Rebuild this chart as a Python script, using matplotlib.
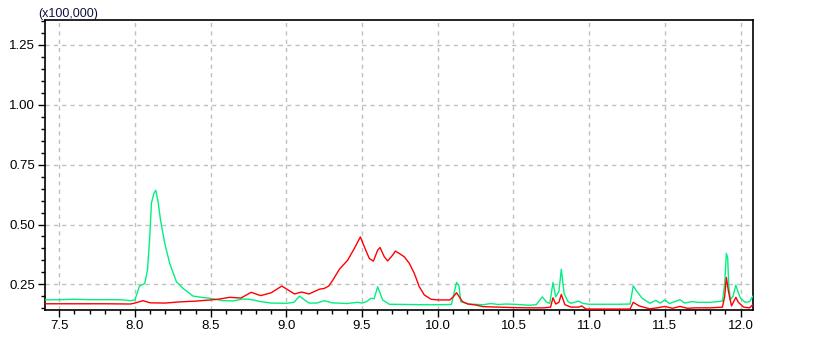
import matplotlib
matplotlib.use("Agg")
import matplotlib.pyplot as plt
from matplotlib.ticker import MultipleLocator, FormatStrFormatter

green_x = [7.41, 7.5, 7.6, 7.7, 7.8, 7.9, 7.97, 8.0, 8.01, 8.03, 8.065, 8.083, 8.098, 8.109, 8.125, 8.138,
           8.153, 8.169, 8.197, 8.23, 8.274, 8.318, 8.384, 8.45, 8.494, 8.581, 8.65, 8.713, 8.75, 8.779, 8.83,
           8.9, 9.0, 9.05, 9.087, 9.12, 9.15, 9.2, 9.252, 9.3, 9.4, 9.47, 9.5, 9.53, 9.56, 9.58, 9.603, 9.636,
           9.68, 9.8, 9.9, 10.0, 10.09, 10.11, 10.124, 10.14, 10.152, 10.2, 10.3, 10.35, 10.4, 10.45, 10.5,
           10.55, 10.6, 10.65, 10.69, 10.72, 10.74, 10.761, 10.779, 10.8, 10.816, 10.834, 10.86, 10.88, 10.93,
           10.96, 11.0, 11.1, 11.2, 11.27, 11.291, 11.31, 11.35, 11.4, 11.44, 11.47, 11.5, 11.53, 11.6, 11.63,
           11.68, 11.72, 11.8, 11.88, 11.895, 11.906, 11.915, 11.921, 11.932, 11.95, 11.969, 11.985, 12.0,
           12.03, 12.06, 12.08]
green_y = [0.185, 0.186, 0.188, 0.186, 0.186, 0.186, 0.182, 0.185, 0.205, 0.243, 0.254, 0.31, 0.449, 0.589,
           0.63, 0.643, 0.594, 0.518, 0.421, 0.337, 0.261, 0.233, 0.201, 0.195, 0.192, 0.182, 0.181, 0.189,
           0.188, 0.185, 0.178, 0.172, 0.171, 0.175, 0.201, 0.185, 0.172, 0.172, 0.182, 0.173, 0.17, 0.175,
           0.172, 0.178, 0.192, 0.19, 0.24, 0.185, 0.167, 0.166, 0.165, 0.165, 0.166, 0.22, 0.258, 0.245,
           0.178, 0.168, 0.165, 0.17, 0.166, 0.168, 0.167, 0.165, 0.163, 0.165, 0.198, 0.175, 0.171, 0.258,
           0.198, 0.22, 0.313, 0.213, 0.178, 0.171, 0.18, 0.17, 0.167, 0.167, 0.167, 0.168, 0.244, 0.225,
           0.192, 0.171, 0.183, 0.172, 0.185, 0.17, 0.186, 0.172, 0.178, 0.175, 0.175, 0.18, 0.25, 0.379,
           0.36, 0.254, 0.185, 0.2, 0.247, 0.215, 0.192, 0.175, 0.178, 0.2]

red_x = [7.41, 7.6, 7.8, 7.97, 8.0, 8.054, 8.1, 8.2, 8.3, 8.4, 8.5, 8.55, 8.626, 8.7, 8.768, 8.83, 8.9,
         8.97, 9.054, 9.1, 9.15, 9.219, 9.25, 9.28, 9.307, 9.35, 9.405, 9.449, 9.489, 9.515, 9.548, 9.575,
         9.603, 9.619, 9.647, 9.669, 9.702, 9.72, 9.746, 9.779, 9.812, 9.845, 9.878, 9.911, 9.955, 10.0,
         10.08, 10.102, 10.124, 10.14, 10.163, 10.2, 10.25, 10.3, 10.4, 10.5, 10.6, 10.7, 10.745, 10.761,
         10.779, 10.8, 10.816, 10.84, 10.88, 10.93, 10.95, 10.98, 11.1, 11.27, 11.291, 11.33, 11.4, 11.45,
         11.5, 11.55, 11.6, 11.65, 11.7, 11.8, 11.88, 11.895, 11.906, 11.92, 11.94, 11.969, 11.985, 12.02,
         12.06, 12.08]
red_y = [0.169, 0.169, 0.169, 0.168, 0.172, 0.182, 0.173, 0.172, 0.177, 0.18, 0.185, 0.188, 0.196, 0.193,
         0.217, 0.203, 0.215, 0.243, 0.21, 0.218, 0.21, 0.23, 0.233, 0.243, 0.268, 0.313, 0.351, 0.4, 0.448,
         0.407, 0.358, 0.347, 0.393, 0.404, 0.365, 0.348, 0.372, 0.389, 0.379, 0.365, 0.338, 0.296, 0.24,
         0.206, 0.188, 0.185, 0.185, 0.198, 0.215, 0.2, 0.178, 0.168, 0.164, 0.157, 0.155, 0.153, 0.152,
         0.152, 0.155, 0.194, 0.168, 0.175, 0.208, 0.165, 0.155, 0.155, 0.16, 0.147, 0.147, 0.147, 0.175,
         0.16, 0.148, 0.152, 0.158, 0.15, 0.158, 0.15, 0.152, 0.152, 0.155, 0.2, 0.279, 0.22, 0.16, 0.196,
         0.175, 0.155, 0.152, 0.165]

scale_label = "(x100,000)"

plt.rcParams['font.family'] = ['Liberation Sans', 'DejaVu Sans']

fig = plt.figure(figsize=(8.21, 3.48), dpi=100)
ax = fig.add_axes([45 / 821, 1 - 310 / 348, (753 - 45) / 821, (310 - 20) / 348])

ax.plot(green_x, green_y, color='#00F080', lw=1.0, zorder=3)
ax.plot(red_x, red_y, color='#FF0000', lw=1.0, zorder=4)

ax.set_xlim(7.406, 12.082)
ax.set_ylim(0.143, 1.354)

ax.xaxis.set_major_locator(MultipleLocator(0.5))
ax.xaxis.set_minor_locator(MultipleLocator(0.1))
ax.yaxis.set_major_locator(MultipleLocator(0.25))
ax.yaxis.set_minor_locator(MultipleLocator(0.05))
ax.xaxis.set_major_formatter(FormatStrFormatter('%.1f'))
ax.yaxis.set_major_formatter(FormatStrFormatter('%.2f'))

ax.tick_params(axis='both', which='major', length=5, width=1, labelsize=9.5, colors='black', pad=2)
ax.tick_params(axis='both', which='minor', length=3, width=1)

ax.grid(True, which='major', color='#c0c0c0', linestyle=(0, (3, 3)), linewidth=1.0, zorder=0)

for s in ax.spines.values():
    s.set_linewidth(1.2)
    s.set_color('black')

fig.text(38 / 821, 1 - 20 / 348, scale_label, fontsize=9, color='#101040', ha='left', va='bottom')

fig.savefig('out.png', dpi=100)
